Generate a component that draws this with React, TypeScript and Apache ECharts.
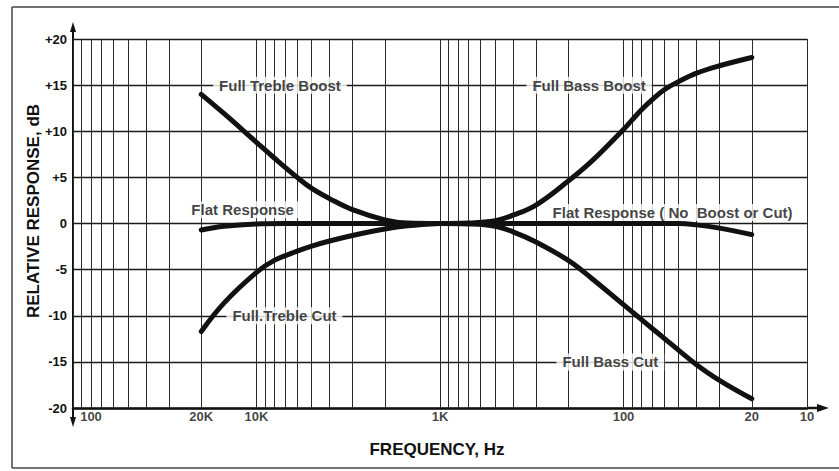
import { useEffect, useRef } from 'react';
import * as echarts from 'echarts';

// Vertical grid lines (Hz) on the reversed log frequency axis
const gridFreqs = [
  10, 20, 30, 40, 50, 60, 70, 80, 90,
  100, 200, 300, 400, 500, 600, 700, 800, 900,
  1000, 2000, 3000, 4000, 5000, 6000, 7000, 8000, 9000,
  10000, 20000, 30000, 40000, 50000, 60000, 70000, 80000, 90000,
  100000,
];

// Frequency tick labels
const xTickValues = [100000, 20000, 10000, 1000, 100, 20, 10];
const xTickLabels = ['100', '20K', '10K', '1K', '100', '20', '10'];

// Curves: frequency (Hz) and relative response (dB)
const flatFreq = [20000, 15000, 10000, 7000, 3000, 1000, 300, 100, 50, 40, 30, 20];
const flatDb = [-0.7, -0.3, -0.05, 0, 0, 0, 0, 0, 0, -0.15, -0.5, -1.2];

const trebleBoostFreq = [20000, 15000, 10000, 8000, 6000, 5000, 4000, 3000, 2000, 1500, 1000];
const trebleBoostDb = [14.0, 11.9, 8.8, 7.1, 5.0, 3.8, 2.7, 1.5, 0.4, 0.05, 0];

const trebleCutFreq = [20000, 15000, 10000, 8000, 6000, 5000, 4000, 3000, 2000, 1500, 1000];
const trebleCutDb = [-11.7, -8.6, -5.3, -4.0, -3.0, -2.45, -1.9, -1.3, -0.6, -0.25, 0];

const bassBoostFreq = [1000, 700, 500, 400, 300, 200, 150, 100, 90, 80, 70, 60, 50, 40, 30, 20];
const bassBoostDb = [0, 0.05, 0.3, 0.9, 2.0, 4.6, 6.7, 10.2, 11.2, 12.3, 13.4, 14.5, 15.4, 16.3, 17.1, 18.0];

const bassCutFreq = [1000, 700, 500, 400, 300, 200, 150, 100, 90, 80, 70, 60, 50, 40, 30, 20];
const bassCutDb = [0, -0.05, -0.3, -0.9, -2.0, -4.0, -5.9, -8.8, -9.55, -10.4, -11.35, -12.45, -13.75, -15.3, -17.0, -19.0];

// Curve annotations (anchor in data space)
const annoTexts = [
  'Full Treble Boost',
  'Full Bass Boost',
  'Flat Response',
  'Flat Response ( No  Boost or Cut)',
  'Full.Treble Cut',
  'Full Bass Cut',
];
const annoFreqs = [7450, 154, 11900, 54, 7040, 118];
const annoDb = [15, 15, 1.5, 1.2, -10, -15];

const FONT = '"Liberation Sans", Arial, Helvetica, sans-serif';

export default function App() {
  const ref = useRef<HTMLDivElement>(null);

  useEffect(() => {
    const el = ref.current;
    if (!el) return;
    const chart = echarts.init(el, null, { renderer: 'svg' });

    const curve = (name: string, f: number[], d: number[]) => ({
      name,
      type: 'line',
      data: f.map((x, i) => [x, d[i]]),
      symbol: 'none',
      showSymbol: false,
      smooth: 0.4,
      clip: false,
      silent: true,
      z: 3,
      lineStyle: { color: '#111', width: 5, cap: 'round', join: 'round' },
    });

    const option: any = {
      animation: false,
      backgroundColor: '#fff',
      grid: { left: 73, right: 32, top: 39, bottom: 63 },
      xAxis: {
        type: 'log',
        logBase: 10,
        min: 10,
        max: 100000,
        inverse: true,
        axisLine: { show: true, onZero: false, lineStyle: { color: '#111', width: 2.5 } },
        axisTick: { show: false },
        axisLabel: { show: false },
        splitLine: { show: false },
        minorSplitLine: { show: false },
      },
      yAxis: {
        type: 'value',
        min: -20,
        max: 20,
        interval: 5,
        axisLine: { show: true, onZero: false, lineStyle: { color: '#111', width: 2 } },
        axisTick: { show: false },
        axisLabel: {
          margin: 6,
          color: '#111',
          fontFamily: FONT,
          fontSize: 13,
          fontWeight: 'bold',
          formatter: (v: number) => (v > 0 ? '+' + v : String(v)),
        },
        splitLine: { show: true, lineStyle: { color: '#1a1a1a', width: 1.4 } },
      },
      series: [
        {
          ...curve('Flat Response', flatFreq, flatDb),
          markLine: {
            silent: true,
            symbol: 'none',
            z: 1,
            animation: false,
            label: { show: false },
            lineStyle: { color: '#2a2a2a', width: 1, type: 'solid' },
            data: gridFreqs.map((f) => ({ xAxis: f })),
          },
        },
        curve('Full Treble Boost', trebleBoostFreq, trebleBoostDb),
        curve('Full Treble Cut', trebleCutFreq, trebleCutDb),
        curve('Full Bass Boost', bassBoostFreq, bassBoostDb),
        curve('Full Bass Cut', bassCutFreq, bassCutDb),
        {
          type: 'scatter',
          name: 'annotations',
          symbolSize: 0,
          clip: false,
          silent: true,
          z: 5,
          data: annoFreqs.map((f, i) => ({ value: [f, annoDb[i]], name: annoTexts[i] })),
          label: {
            show: true,
            position: 'inside',
            formatter: '{b}',
            color: '#111',
            fontFamily: FONT,
            fontSize: 15,
            fontWeight: 'bold',
            backgroundColor: '#fff',
            padding: [1, 6],
          },
        },
        {
          type: 'scatter',
          name: 'ticks',
          symbolSize: 0,
          clip: false,
          silent: true,
          z: 5,
          data: xTickValues.map((v, i) => ({
            value: [v, -20],
            name: xTickLabels[i],
            label: i === 0 ? { offset: [18, 0] } : undefined,
          })),
          label: {
            show: true,
            position: 'bottom',
            distance: 2,
            formatter: '{b}',
            color: '#111',
            fontFamily: FONT,
            fontSize: 13,
            fontWeight: 'bold',
          },
        },
      ],
    };

    chart.setOption(option);

    const tl = chart.convertToPixel({ gridIndex: 0 }, [100000, 20]) as number[];
    const br = chart.convertToPixel({ gridIndex: 0 }, [10, -20]) as number[];
    const xl = tl[0];
    const yt = tl[1];
    const xr = br[0];
    const yb = br[1];
    const ink = '#111';
    const frame = { stroke: '#444', lineWidth: 1.5 };

    chart.setOption({
      graphic: [
        { type: 'line', shape: { x1: 12, y1: 7, x2: 839, y2: 7 }, style: frame, silent: true },
        { type: 'line', shape: { x1: 12, y1: 7, x2: 12, y2: 468 }, style: frame, silent: true },
        { type: 'line', shape: { x1: 12, y1: 468, x2: 839, y2: 468 }, style: frame, silent: true },
        { type: 'line', shape: { x1: xl, y1: yt, x2: xl, y2: yt - 10 }, style: { stroke: ink, lineWidth: 2 }, silent: true },
        { type: 'polygon', shape: { points: [[xl, yt - 17], [xl - 3, yt - 7], [xl + 3, yt - 7]] }, style: { fill: ink }, silent: true },
        { type: 'line', shape: { x1: xl, y1: yb, x2: xl, y2: yb + 12 }, style: { stroke: ink, lineWidth: 2 }, silent: true },
        { type: 'polygon', shape: { points: [[xl, yb + 19], [xl - 3, yb + 9], [xl + 3, yb + 9]] }, style: { fill: ink }, silent: true },
        { type: 'line', shape: { x1: xr, y1: yb, x2: xr + 12, y2: yb }, style: { stroke: ink, lineWidth: 2.5 }, silent: true },
        { type: 'polygon', shape: { points: [[xr + 22, yb], [xr + 10, yb - 4], [xr + 10, yb + 4]] }, style: { fill: ink }, silent: true },
        {
          type: 'text',
          x: 33,
          y: 211,
          rotation: Math.PI / 2,
          silent: true,
          style: {
            text: 'RELATIVE RESPONSE, dB',
            align: 'center',
            verticalAlign: 'middle',
            font: `bold 17px ${FONT}`,
            fill: ink,
          },
        },
        {
          type: 'text',
          x: 437,
          y: 449,
          silent: true,
          style: {
            text: 'FREQUENCY, Hz',
            align: 'center',
            verticalAlign: 'middle',
            font: `bold 17px ${FONT}`,
            fill: ink,
          },
        },
      ],
    });

    return () => {
      chart.dispose();
    };
  }, []);

  return (
    <div
      ref={ref}
      style={{ position: 'fixed', left: 0, top: 0, width: 839, height: 471, background: '#fff' }}
    />
  );
}
